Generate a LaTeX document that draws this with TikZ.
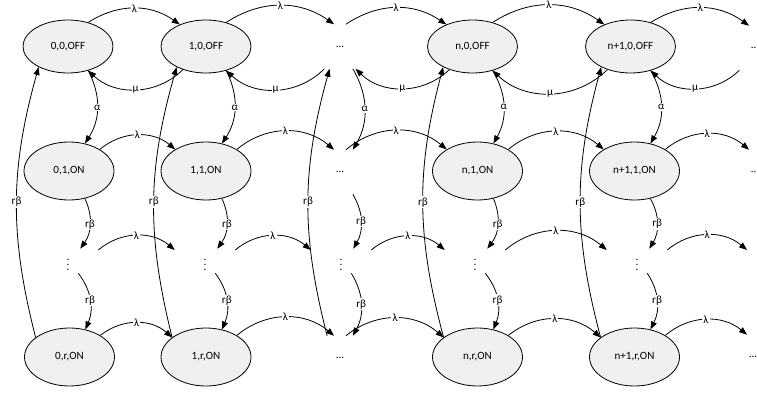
\documentclass[tikz,border=0pt]{standalone}
\usepackage{fontspec}
\setmainfont{Carlito}
\usetikzlibrary{arrows.meta,shapes.geometric}
\definecolor{statefill}{HTML}{F0F0F0}

\begin{document}
\begin{tikzpicture}[x=0.75pt,y=0.75pt,
  font=\fontsize{8.3}{10}\selectfont,
  offstate/.style={ellipse,draw,fill=statefill,line width=0.6pt,minimum width=67.5pt,minimum height=39.75pt,inner sep=0pt},
  onstate/.style={offstate,minimum height=43.5pt},
  gap/.style={rectangle,minimum width=30pt,minimum height=33pt,inner sep=0pt},
  vgap/.style={rectangle,minimum width=45pt,minimum height=18pt,inner sep=0pt},
  trans/.style={-{Triangle[length=6pt,width=4.5pt]},line width=0.6pt},
  lbl/.style={fill=white,inner sep=0.8pt}]
\useasboundingbox (0,0) rectangle (757,-393);

\node[offstate] (o0) at (68,-46.5) {0,0,OFF};
\node[offstate] (o1) at (206,-46.5) {1,0,OFF};
\node[gap] (o2) at (340,-46.5) {...};
\node[offstate] (o3) at (472.5,-46.5) {n,0,OFF};
\node[offstate] (o4) at (630.5,-46.5) {n+1,0,OFF};
\node[gap] (o5) at (755,-48) {...};

\node[onstate] (a0) at (69,-171) {0,1,ON};
\node[onstate] (a1) at (206,-171) {1,1,ON};
\node[gap] (a2) at (340,-172) {...};
\node[onstate] (a3) at (477.5,-171) {n,1,ON};
\node[onstate] (a4) at (634.5,-171) {n+1,1,ON};
\node[gap] (a5) at (755,-172) {...};

\foreach \n/\x in {0/68,1/205,2/341,3/475,4/637}
  \node[vgap] (v\n) at (\x,-261) {$\vdots$};
\coordinate (v5) at (747,-250);

\node[onstate] (r0) at (69.5,-357) {0,r,ON};
\node[onstate] (r1) at (206,-357) {1,r,ON};
\node[gap] (r2) at (340,-358) {...};
\node[onstate] (r3) at (477.5,-357) {n,r,ON};
\node[onstate] (r4) at (634.5,-357) {n+1,r,ON};
\node[gap] (r5) at (753,-357) {...};

\foreach \s/\t in {o0.50/o1.140,o1.50/o2.105,o2.75/o3.140,o3.50/o4.140,o4.50/o5.105}
  \draw[trans] (\s) to[bend left=34] node[lbl] {λ} (\t);

\foreach \s/\t in {a0.35/a1.145,a1.35/a2.105,a2.75/a3.145,a3.35/a4.145,a4.35/a5.105,
    v0.20/v1.160,v1.20/v2.160,v2.20/v3.160,v3.20/v4.160,v4.20/v5,
    r0.35/r1.150,r1.35/r2.105,r2.75/r3.150,r3.35/r4.150,r4.35/r5.105}
  \draw[trans] (\s) to[bend left=40] node[lbl] {λ} (\t);

\foreach \s/\t in {o1.-135/o0.-50,o2.-125/o1.-50,o3.-135/o2.-55,o4.-135/o3.-50,o5.-125/o4.-50}
  \draw[trans] (\s) to[bend left=44] node[lbl] {μ} (\t);

\foreach \s/\t in {o0.-50/a0.60,o1.-50/a1.60,o2.-60/a2.60,o3.-50/a3.60,o4.-50/a4.60}
  \draw[trans] (\s) to[bend left=30] node[lbl] {α} (\t);

\foreach \s/\t in {a0.-60/v0.45,a1.-60/v1.45,a2.-60/v2.45,a3.-60/v3.45,a4.-60/v4.45,
    v0.-50/r0.60,v1.-50/r1.60,v2.-50/r2.60,v3.-50/r3.60,v4.-50/r4.60}
  \draw[trans] (\s) to[bend left=30] node[lbl] {rβ} (\t);

\foreach \s/\t in {r0.150/o0.-145,r1.150/o1.-145,r2.120/o2.-115,r3.150/o3.-145,r4.150/o4.-145}
  \draw[trans] (\s) to[bend left=15] node[lbl] {rβ} (\t);
\end{tikzpicture}
\end{document}
